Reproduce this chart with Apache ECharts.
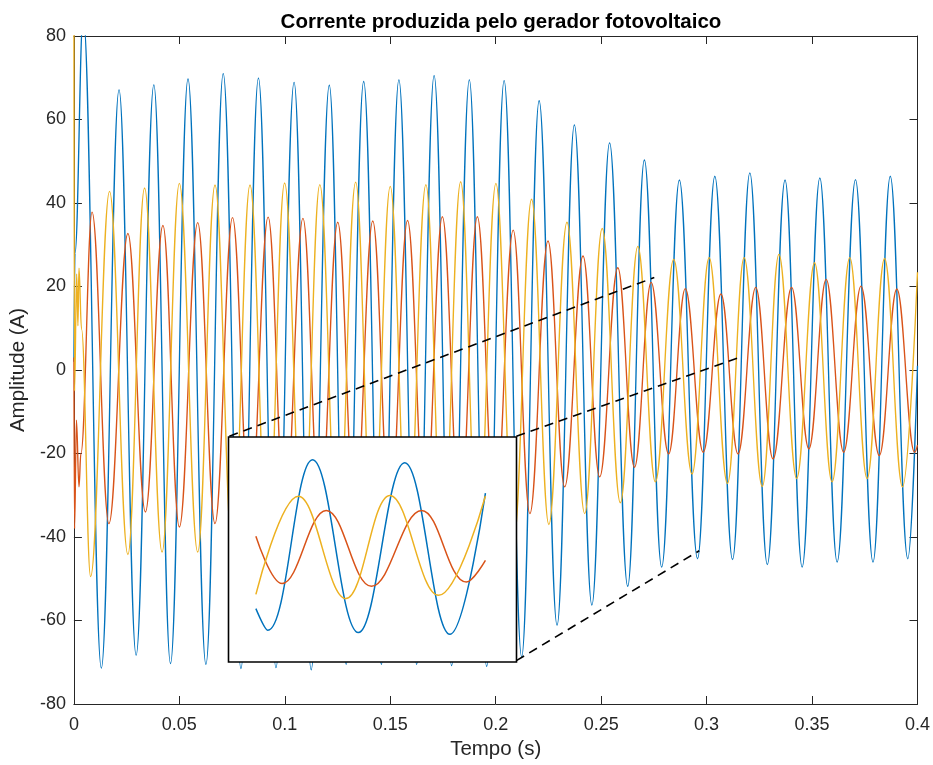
<!DOCTYPE html>
<html>
<head>
<meta charset="utf-8">
<script src="https://cdn.jsdelivr.net/npm/echarts@6/dist/echarts.min.js"></script>
<style>
html,body{margin:0;padding:0;background:#fff;}
#chart{width:933px;height:765px;}
</style>
</head>
<body>
<div id="chart"></div>
<script>
// ---- data: [time (s), amplitude (A)] at peaks/troughs ----
const xTicks = [0, 0.05, 0.1, 0.15, 0.2, 0.25, 0.3, 0.35, 0.4];
const yTicks = [-80, -60, -40, -20, 0, 20, 40, 60, 80];

const phaseBlue = [
  [0, 2], [0.0005, 28], [0.0044, 85],
  [0.0130, -71.4], [0.0214, 67.1], [0.0295, -68.3], [0.0379, 68.3], [0.0458, -70.3], [0.0541, 69.7],
  [0.0626, -70.5], [0.0708, 71.0], [0.0792, -71.5], [0.0875, 69.9], [0.0958, -71.3], [0.1044, 68.9],
  [0.1125, -71.8], [0.1211, 68.2], [0.1291, -70.5], [0.1374, 69.1], [0.1458, -70.5], [0.1541, 69.5],
  [0.1625, -70.5], [0.1708, 70.5], [0.1791, -70.8], [0.1875, 69.5], [0.1957, -71.0], [0.2040, 69.3],
  [0.2123, -68.7], [0.2206, 64.5], [0.2291, -61.1], [0.2373, 58.7], [0.2456, -56.3], [0.2540, 54.4],
  [0.2626, -51.8], [0.2705, 50.3], [0.2787, -47.2], [0.2871, 45.5], [0.2957, -45.2], [0.3039, 46.4],
  [0.3123, -45.4], [0.3205, 47.2], [0.3288, -46.6], [0.3372, 45.5], [0.3453, -47.2], [0.3537, 46.0],
  [0.3619, -46.0], [0.3706, 45.6], [0.3789, -46.0], [0.3871, 46.4], [0.3954, -45.2], [0.4, 1]
];

const phaseRed = [
  [0, 3], [0.0003, -38], [0.0012, -12], [0.0024, -28], [0.0033, -20],
  [0.0086, 37.8], [0.0166, -36.8], [0.0256, 32.7], [0.0339, -34.0], [0.0422, 34.6], [0.0500, -37.6],
  [0.0587, 35.3], [0.0669, -36.8], [0.0752, 36.5], [0.0835, -36], [0.0921, 36.6], [0.1001, -36],
  [0.1086, 36.3], [0.1167, -36], [0.1251, 35.4], [0.1333, -36], [0.1417, 35.7], [0.1499, -36],
  [0.1582, 35.8], [0.1665, -36], [0.1747, 36.7], [0.1831, -36], [0.1913, 36.7], [0.1997, -36],
  [0.2083, 33.5], [0.2162, -34.4], [0.2248, 30.9], [0.2327, -28.0], [0.2414, 27.3], [0.2493, -25.6],
  [0.2579, 24.5], [0.2658, -23.3], [0.2737, 21.0], [0.2820, -20.1], [0.2899, 19.5], [0.2984, -19.7],
  [0.3068, 18.2], [0.3149, -20.1], [0.3233, 19.8], [0.3315, -21.3], [0.3403, 19.8], [0.3485, -18.9],
  [0.3567, 21.7], [0.3650, -19.7], [0.3732, 20.1], [0.3819, -20.5], [0.3902, 19.4], [0.3986, -19.7],
  [0.4, -18]
];

const phaseYellow = [
  [0, 85], [0.0003, -5], [0.0013, 23], [0.0019, 10.6], [0.0024, 24.4], [0.0036, 9.8],
  [0.0079, -49.5], [0.0169, 42.8], [0.0256, -44.2], [0.0335, 43.6], [0.0418, -43.6], [0.0500, 44.7],
  [0.0587, -43.6], [0.0669, 44.3], [0.0753, -44], [0.0835, 44.3], [0.0919, -44], [0.0999, 44.8],
  [0.1085, -44], [0.1166, 44.4], [0.1251, -44], [0.1336, 45.0], [0.1417, -44], [0.1500, 44.0],
  [0.1583, -44], [0.1669, 44.4], [0.1749, -44], [0.1834, 45.1], [0.1915, -44], [0.2001, 44.7],
  [0.2085, -41], [0.2170, 40.9], [0.2252, -37.0], [0.2338, 35.4], [0.2422, -34.4], [0.2505, 33.9],
  [0.2591, -31.8], [0.2674, 29.6], [0.2757, -26.8], [0.2844, 26.5], [0.2931, -24.9], [0.3012, 26.9],
  [0.3099, -27.2], [0.3178, 26.9], [0.3264, -27.9], [0.3343, 27.7], [0.3427, -26.0], [0.3512, 25.7],
  [0.3595, -26.8], [0.3679, 26.9], [0.3761, -26.0], [0.3844, 26.7], [0.3929, -28.0], [0.4, 23.4]
];

// zoomed inset (about two cycles near t = 0.28 s)
const insetBlue = [[0.2750, -31.5], [0.2772, -42.8], [0.2854, 46.0], [0.2938, -44.0], [0.3023, 44.4], [0.3106, -44.9], [0.3171, 28.6]];
const insetRed = [[0.2750, 6.1], [0.2798, -18.5], [0.2879, 19.6], [0.2962, -19.9], [0.3054, 19.6], [0.3136, -17.7], [0.3171, -6.4]];
const insetYellow = [[0.2750, -24.1], [0.2828, 26.9], [0.2915, -26.3], [0.2996, 27.4], [0.3085, -24.6], [0.3171, 27.1]];
const insetRangeX = [0.26998, 0.3228];
const insetRangeY = [-59.3, 57.8];

// dashed connector lines (main-axis coordinates)
const link1 = [[0.0737, -15.84], [0.2752, 22.15]];
const link2 = [[0.2098, -15.84], [0.3145, 2.8]];
const link3 = [[0.2098, -69.6], [0.2965, -43.3]];

const titleText = 'Corrente produzida pelo gerador fotovoltaico';
const xName = 'Tempo (s)';
const yName = 'Amplitude (A)';

// ---- styling ----
const FONT = '"Liberation Sans", Arial, Helvetica, sans-serif';
const AX = '#262626';
const C_BLUE = '#0072BD', C_RED = '#D95319', C_YEL = '#EDB120';

const chart = echarts.init(document.getElementById('chart'), null, {renderer: 'canvas'});

function boxAxis(extra) {
  return Object.assign({
    type: 'value',
    gridIndex: 0,
    axisLine: {show: true, onZero: false, lineStyle: {color: AX, width: 1}},
    axisTick: {show: true, inside: true, length: 8, lineStyle: {color: AX, width: 1}},
    splitLine: {show: false},
    axisLabel: {show: false}
  }, extra);
}

const xInterval = xTicks[1] - xTicks[0];
const yInterval = yTicks[1] - yTicks[0];

function mainLine(data, color, z) {
  return {
    type: 'line', xAxisIndex: 0, yAxisIndex: 0, data: data,
    showSymbol: false, symbol: 'none', smooth: 0.4, smoothMonotone: 'x',
    lineStyle: {color: color, width: 1.35}, z: z, silent: true, animation: false, clip: true
  };
}
function insetLine(data, color) {
  return {
    type: 'line', xAxisIndex: 2, yAxisIndex: 2, data: data,
    showSymbol: false, symbol: 'none', smooth: 0.4,
    lineStyle: {color: color, width: 1.5}, z: 12, silent: true, animation: false
  };
}
function linkLine(data) {
  return {
    type: 'line', xAxisIndex: 0, yAxisIndex: 0, data: data,
    showSymbol: false, symbol: 'none',
    lineStyle: {color: '#000', width: 1.6, type: [9, 6]}, z: 5, silent: true, animation: false, clip: false
  };
}

const option = {
  animation: false,
  backgroundColor: '#fff',
  textStyle: {fontFamily: FONT},
  title: {
    text: titleText, left: 496, top: 7, textAlign: 'center',
    textStyle: {fontFamily: FONT, fontSize: 20.5, fontWeight: 'bold', color: '#000'}
  },
  grid: [
    {left: 72.5, right: 14.5, top: 36, bottom: 59.5, show: false},
    {left: 228.5, top: 437, width: 288, height: 225, show: true, backgroundColor: '#fff',
     borderColor: '#000', borderWidth: 1.6, z: 10}
  ],
  xAxis: [
    boxAxis({position: 'bottom', min: xTicks[0], max: xTicks[xTicks.length - 1], interval: xInterval,
      name: xName, nameLocation: 'middle', nameGap: 35,
      nameTextStyle: {fontFamily: FONT, fontSize: 20.5, color: AX},
      axisLabel: {show: true, color: AX, fontSize: 18, fontFamily: FONT, margin: 12,
        formatter: v => String(+v.toFixed(4))}}),
    boxAxis({position: 'top', min: xTicks[0], max: xTicks[xTicks.length - 1], interval: xInterval}),
    {type: 'value', gridIndex: 1, min: insetRangeX[0], max: insetRangeX[1], show: false}
  ],
  yAxis: [
    boxAxis({position: 'left', min: yTicks[0], max: yTicks[yTicks.length - 1], interval: yInterval,
      name: yName, nameLocation: 'middle', nameGap: 39,
      nameTextStyle: {fontFamily: FONT, fontSize: 20.5, color: AX},
      axisLabel: {show: true, color: AX, fontSize: 18, fontFamily: FONT, margin: 8}}),
    boxAxis({position: 'right', min: yTicks[0], max: yTicks[yTicks.length - 1], interval: yInterval}),
    {type: 'value', gridIndex: 1, min: insetRangeY[0], max: insetRangeY[1], show: false}
  ],
  series: [
    mainLine(phaseBlue, C_BLUE, 2),
    mainLine(phaseRed, C_RED, 3),
    mainLine(phaseYellow, C_YEL, 4),
    linkLine(link1), linkLine(link2), linkLine(link3),
    insetLine(insetBlue, C_BLUE),
    insetLine(insetRed, C_RED),
    insetLine(insetYellow, C_YEL)
  ]
};
chart.setOption(option);
</script>
</body>
</html>
